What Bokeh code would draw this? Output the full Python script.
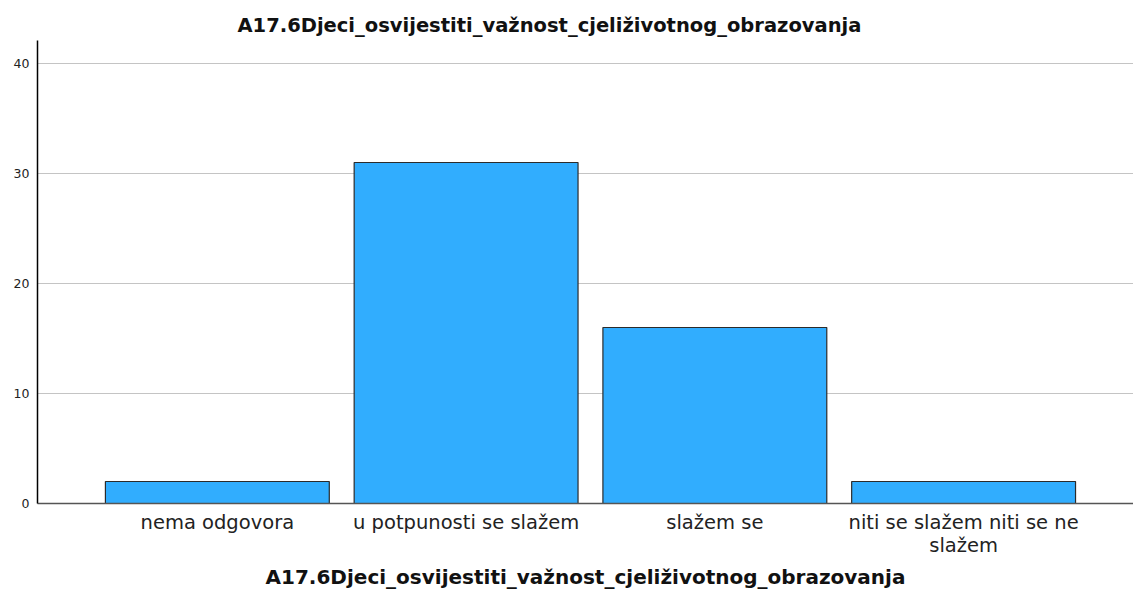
from bokeh.plotting import figure
from bokeh.models import FixedTicker, Title, ColumnDataSource, Range1d
from bokeh.embed import file_html
from bokeh.resources import INLINE

categories = ["nema odgovora", "u potpunosti se slažem", "slažem se", "niti se slažem niti se ne\nslažem"]
counts = [2, 31, 16, 2]
positions = [1, 2, 3, 4]
y_ticks = [0, 10, 20, 30, 40]
title_text = "A17.6Djeci_osvijestiti_važnost_cjeliživotnog_obrazovanja"

FONT = "DejaVu Sans"

p = figure(width=1133, height=594, output_backend="svg", toolbar_location=None,
           x_range=Range1d(0.277, 4.683), y_range=Range1d(0, 42.09),
           min_border_left=37, min_border_right=0, min_border_top=40, min_border_bottom=91)
p.title = Title(text=title_text, align="left", offset=200, text_font=FONT,
                text_font_size="19.5px", text_font_style="bold", text_color="#111111",
                standoff=7)

src = ColumnDataSource(dict(x=positions, top=counts))
p.vbar(x="x", top="top", width=0.9, bottom=0, source=src,
       fill_color="#31adfe", line_color="#2b2b2b", line_width=1.2)

p.outline_line_color = None
p.xgrid.grid_line_color = None
p.ygrid.grid_line_color = "#c4c4c4"
p.ygrid.grid_line_width = 1
p.ygrid.ticker = FixedTicker(ticks=y_ticks)

p.yaxis.ticker = FixedTicker(ticks=y_ticks)
p.yaxis.axis_line_color = "#000000"
p.yaxis.axis_line_width = 1.5
p.yaxis.major_tick_out = 0
p.yaxis.major_tick_in = 0
p.yaxis.minor_tick_line_color = None
p.yaxis.major_label_standoff = 8
p.yaxis.major_label_text_font = FONT
p.yaxis.major_label_text_font_size = "12.5px"
p.yaxis.major_label_text_color = "#222222"

p.xaxis.ticker = FixedTicker(ticks=positions)
p.xaxis.major_label_overrides = {pos: lab for pos, lab in zip(positions, categories)}
p.xaxis.axis_line_color = "#555555"
p.xaxis.axis_line_width = 1.5
p.xaxis.major_tick_out = 0
p.xaxis.major_tick_in = 0
p.xaxis.minor_tick_line_color = None
p.xaxis.major_label_standoff = 7
p.xaxis.major_label_text_font = FONT
p.xaxis.major_label_text_font_size = "19.5px"
p.xaxis.major_label_text_line_height = 1.0
p.xaxis.major_label_text_color = "#222222"
p.xaxis.axis_label = title_text
p.xaxis.axis_label_text_font = FONT
p.xaxis.axis_label_text_font_size = "20px"
p.xaxis.axis_label_text_font_style = "bold"
p.xaxis.axis_label_text_color = "#111111"
p.xaxis.axis_label_standoff = 5

open("out.html", "w").write(file_html(p, INLINE))
